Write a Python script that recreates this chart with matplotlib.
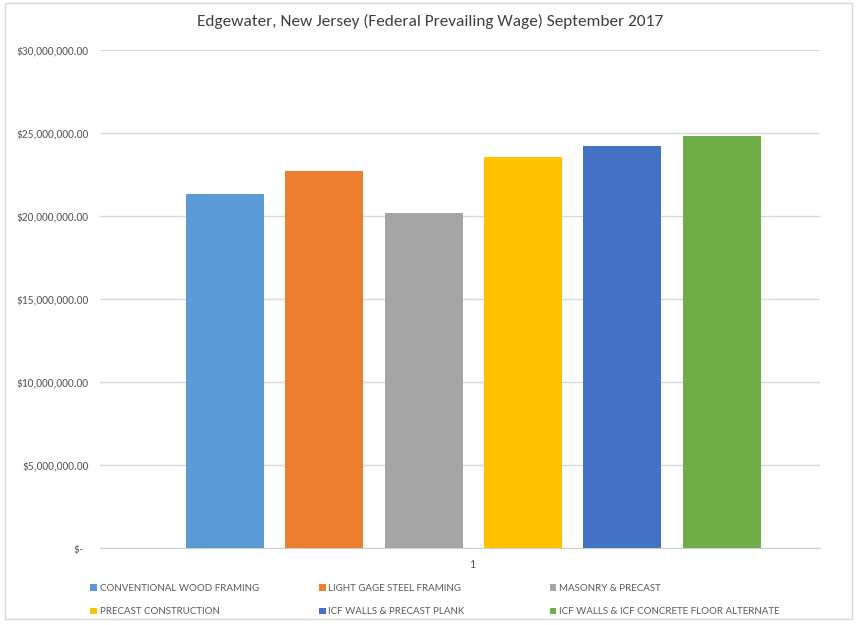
import matplotlib
matplotlib.use("Agg")
import matplotlib.pyplot as plt
from matplotlib.patches import Rectangle, Patch
from matplotlib import font_manager


def _pick(candidates, default):
    installed = {f.name for f in font_manager.fontManager.ttflist}
    for name in candidates:
        if name in installed:
            return name
    return default


MAIN_FONT = _pick(["Carlito", "Lato"], "DejaVu Sans")
plt.rcParams["font.family"] = [MAIN_FONT, "DejaVu Sans"]

TITLE = "Edgewater, New Jersey (Federal Prevailing Wage) September 2017"
SYSTEMS = [
    "CONVENTIONAL WOOD FRAMING",
    "LIGHT GAGE STEEL FRAMING",
    "MASONRY & PRECAST",
    "PRECAST CONSTRUCTION",
    "ICF WALLS & PRECAST PLANK",
    "ICF WALLS & ICF CONCRETE FLOOR ALTERNATE",
]
COSTS = [21_330_000, 22_710_000, 20_180_000, 23_550_000, 24_220_000, 24_820_000]
COLORS = ["#5B9BD5", "#ED7D31", "#A5A5A5", "#FFC000", "#4472C4", "#70AD47"]
Y_TICKS = [0, 5_000_000, 10_000_000, 15_000_000, 20_000_000, 25_000_000, 30_000_000]
Y_LABELS = ["$-  ", "$5,000,000.00", "$10,000,000.00", "$15,000,000.00",
            "$20,000,000.00", "$25,000,000.00", "$30,000,000.00"]
CATEGORY = "1"

fig = plt.figure(figsize=(8.6, 6.25), dpi=100)
# Excel-style chart border
fig.patches.append(Rectangle((0.006, 0.01), 0.985, 0.985, transform=fig.transFigure,
                             fill=False, edgecolor="#D9D9D9", linewidth=1.0))

ax = fig.add_axes([0.116, 0.123, 0.837, 0.797])
step, width = 0.138, 0.108
for i, (name, val, col) in enumerate(zip(SYSTEMS, COSTS, COLORS)):
    ax.bar(0.519 + (i - 2.5) * step, val, width, color=col, label=name, zorder=3)

ax.set_xlim(0, 1)
ax.set_ylim(0, 30_000_000)
ax.set_yticks(Y_TICKS)
ax.set_yticklabels(Y_LABELS)
ax.set_xticks([0.519])
ax.set_xticklabels([CATEGORY])
ax.grid(axis="y", color="#D9D9D9", linewidth=1.0, zorder=0)
for side in ["top", "right", "left"]:
    ax.spines[side].set_visible(False)
ax.spines["bottom"].set_color("#D0D0D0")
ax.tick_params(axis="both", length=0, labelsize=8.3, labelcolor="#595959")
ax.tick_params(axis="y", pad=8)
ax.tick_params(axis="x", pad=8)

fig.text(0.5, 0.965, TITLE, ha="center", va="center", fontsize=12.4, color="#404040")

# Excel lays legend entries out in equal-width columns: one legend per column
handles = [Patch(facecolor=c) for c in COLORS]
col_x = [0.095, 0.361, 0.629]
for c, x0 in enumerate(col_x):
    idx = [c, c + 3]
    fig.legend([handles[k] for k in idx], [SYSTEMS[k] for k in idx],
               loc="lower left", bbox_to_anchor=(x0, 0.0), frameon=False,
               prop={"family": ["Lato", "DejaVu Sans"], "size": 7.0},
               labelcolor="#595959", handlelength=0.65, handleheight=0.65,
               handletextpad=0.3, labelspacing=1.45)

fig.savefig("out.png", dpi=100)
